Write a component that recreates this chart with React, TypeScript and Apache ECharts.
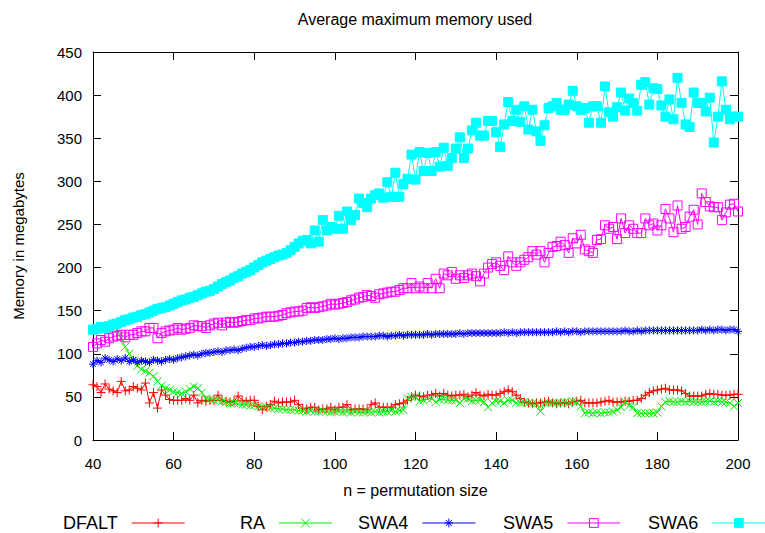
import React, { useEffect, useRef } from 'react';
import * as echarts from 'echarts';

// permutation sizes n = 40 .. 200
const sizes: number[] = Array.from({ length: 161 }, (_, i) => 40 + i);

const dfalt = [
  64, 62, 55, 65, 59, 57, 55, 68, 57, 58,
  62, 60, 58, 66, 43, 55, 37, 58, 52, 47,
  46, 46, 46, 48, 46, 52, 43, 46, 45, 46,
  46, 52, 46, 45, 44, 45, 51, 46, 45, 46,
  46, 39, 35, 39, 41, 45, 43, 44, 44, 44,
  46, 41, 37, 36, 38, 38, 35, 36, 36, 38,
  35, 38, 38, 41, 35, 36, 36, 36, 35, 41,
  43, 38, 38, 38, 38, 41, 42, 43, 46, 50,
  52, 51, 50, 52, 52, 54, 51, 54, 52, 51,
  52, 52, 53, 50, 52, 55, 52, 51, 53, 52,
  52, 54, 56, 58, 56, 52, 48, 44, 43, 42,
  43, 43, 44, 45, 43, 42, 43, 43, 42, 44,
  45, 46, 43, 43, 43, 43, 44, 45, 46, 44,
  44, 44, 45, 45, 46, 46, 48, 52, 55, 57,
  58, 59, 60, 58, 58, 58, 57, 54, 51, 51,
  51, 51, 53, 54, 53, 53, 52, 52, 52, 53,
  53,
];

const ra = [
  126, 128, 130, 132, 133, 134, 128, 118, 108, 100,
  92, 86, 82, 80, 78, 74, 68, 63, 60, 58,
  56, 55, 54, 56, 59, 62, 60, 55, 48, 47,
  46, 46, 45, 44, 43, 43, 42, 41, 41, 40,
  40, 39, 38, 38, 37, 37, 36, 36, 35, 35,
  35, 34, 34, 33, 34, 33, 33, 34, 33, 32,
  33, 33, 32, 33, 32, 33, 32, 32, 33, 32,
  33, 32, 33, 33, 34, 33, 34, 35, 48, 50,
  50, 45, 46, 48, 48, 44, 47, 47, 46, 46,
  46, 43, 48, 48, 45, 46, 46, 44, 38, 43,
  45, 45, 43, 46, 46, 43, 43, 44, 43, 42,
  42, 33, 43, 43, 43, 43, 43, 44, 43, 45,
  44, 39, 31, 32, 31, 32, 31, 32, 32, 33,
  35, 38, 44, 40, 38, 31, 31, 31, 31, 31,
  32, 39, 44, 45, 44, 44, 45, 44, 45, 44,
  44, 44, 45, 45, 44, 45, 44, 44, 43, 39,
  43,
];

const swa4 = [
  88, 92, 90, 95, 93, 91, 94, 92, 95, 91,
  93, 90, 92, 91, 90, 93, 92, 91, 93, 94,
  93, 95, 96, 97, 98, 99, 98, 100, 101, 101,
  102, 103, 102, 104, 104, 105, 104, 106, 107, 108,
  108, 109, 110, 109, 110, 111, 111, 112, 112, 113,
  113, 114, 114, 115, 115, 116, 116, 116, 117, 117,
  118, 117, 118, 118, 119, 119, 119, 120, 120, 120,
  120, 121, 121, 120, 121, 121, 122, 121, 122, 122,
  122, 122, 122, 123, 122, 123, 123, 123, 123, 123,
  123, 124, 123, 124, 124, 124, 124, 124, 124, 124,
  124, 124, 125, 124, 125, 124, 125, 125, 125, 125,
  125, 125, 125, 125, 125, 126, 125, 126, 125, 126,
  126, 125, 126, 126, 126, 126, 126, 126, 126, 126,
  126, 126, 127, 126, 126, 127, 126, 127, 127, 127,
  127, 127, 127, 127, 127, 127, 127, 127, 127, 127,
  127, 128, 127, 128, 127, 128, 128, 127, 128, 128,
  126,
];

const swa5 = [
  108, 112, 116, 114, 118, 120, 121, 122, 119, 122,
  122, 124, 126, 126, 130, 130, 118, 124, 126, 127,
  128, 130, 128, 129, 130, 133, 132, 132, 130, 133,
  135, 136, 133, 136, 137, 136, 137, 138, 139, 139,
  141, 141, 142, 143, 143, 143, 144, 145, 147, 148,
  149, 149, 150, 153, 154, 153, 154, 155, 156, 158,
  157, 158, 159, 160, 162, 163, 165, 166, 168, 167,
  165, 169, 170, 171, 172, 172, 174, 176, 176, 182,
  176, 178, 176, 182, 176, 187, 176, 193, 191, 195,
  187, 191, 188, 191, 193, 190, 184, 193, 200, 204,
  206, 202, 197, 213, 206, 202, 206, 209, 212, 219,
  215, 219, 206, 217, 224, 225, 230, 226, 217, 234,
  228, 238, 221, 219, 217, 232, 233, 249, 245, 247,
  233, 257, 240, 249, 245, 240, 240, 257, 249, 251,
  243, 249, 268, 257, 241, 272, 245, 247, 259, 267,
  250, 286, 276, 271, 270, 270, 255, 264, 273, 274,
  265,
];

const swa6 = [
  128, 129, 131, 130, 132, 134, 135, 137, 139, 140,
  142, 143, 145, 146, 148, 150, 152, 153, 154, 156,
  158, 160, 162, 163, 165, 166, 168, 170, 172, 173,
  175, 178, 181, 183, 185, 188, 190, 193, 195, 197,
  200, 203, 206, 208, 210, 212, 214, 215, 217, 220,
  224, 228, 231, 232, 228, 243, 230, 255, 243, 247,
  245, 260, 245, 265, 255, 261, 280, 275, 270, 280,
  284, 286, 281, 299, 282, 310, 282, 297, 303, 331,
  302, 334, 312, 333, 312, 334, 317, 339, 318, 327,
  338, 351, 327, 338, 359, 368, 353, 353, 370, 370,
  357, 340, 366, 392, 370, 383, 369, 387, 360, 383,
  358, 347, 365, 385, 387, 391, 383, 383, 389, 405,
  387, 383, 385, 368, 387, 387, 368, 410, 380, 375,
  386, 403, 382, 396, 391, 382, 412, 415, 389, 408,
  407, 388, 375, 395, 372, 420, 391, 366, 363, 403,
  391, 391, 381, 397, 345, 375, 416, 383, 372, 375,
  375,
];

const PLUS = 'path://M5,0L5,10M0,5L10,5';
const CROSS = 'path://M0,0L10,10M10,0L0,10';
const STAR = 'path://M5,0L5,10M0,5L10,5M1.5,1.5L8.5,8.5M8.5,1.5L1.5,8.5';
const SQUARE = 'path://M0,0L10,0L10,10L0,10Z';

const seriesDefs = [
  { name: 'DFALT', data: dfalt, color: '#ff0000', symbol: PLUS, size: 9, fill: 'rgba(0,0,0,0)', legendLeft: 63 },
  { name: 'RA', data: ra, color: '#00ee00', symbol: CROSS, size: 8, fill: 'rgba(0,0,0,0)', legendLeft: 240 },
  { name: 'SWA4', data: swa4, color: '#0000ff', symbol: STAR, size: 8, fill: 'rgba(0,0,0,0)', legendLeft: 358 },
  { name: 'SWA5', data: swa5, color: '#ff00ff', symbol: SQUARE, size: 9, fill: 'rgba(0,0,0,0)', legendLeft: 503 },
  { name: 'SWA6', data: swa6, color: '#00ffff', symbol: 'rect', size: 9, fill: '#00ffff', legendLeft: 648 },
];

const FONT = '"Liberation Sans", Arial, Helvetica, sans-serif';

export default function App() {
  const ref = useRef<HTMLDivElement>(null);

  useEffect(() => {
    const chart = echarts.init(ref.current as HTMLDivElement, null, { renderer: 'svg' });

    const axisCommon = {
      type: 'value' as const,
      axisLine: { show: true, onZero: false, lineStyle: { color: '#000', width: 1 } },
      axisTick: { show: true, inside: true, length: 8, lineStyle: { color: '#000', width: 1 } },
      splitLine: { show: false },
    };

    const option: any = {
      animation: false,
      backgroundColor: '#ffffff',
      textStyle: { fontFamily: FONT },
      title: {
        text: 'Average maximum memory used',
        left: 415,
        top: 11,
        padding: 0,
        textAlign: 'center',
        textStyle: { fontFamily: FONT, fontSize: 16, fontWeight: 'normal', color: '#000' },
      },
      legend: seriesDefs.map((s) => ({
        data: [s.name],
        left: s.legendLeft,
        top: 514,
        padding: 0,
        align: 'right',
        itemWidth: 53,
        itemHeight: 11,
        selectedMode: false,
        textStyle: { fontFamily: FONT, fontSize: 18, color: '#000', padding: [0, 9, 0, 0] },
        itemStyle: { color: s.fill, borderColor: s.color, borderWidth: 1 },
        lineStyle: { color: s.color, width: 1 },
      })),
      grid: { left: 93, right: 27, top: 52, bottom: 93, containLabel: false },
      xAxis: [
        {
          ...axisCommon,
          position: 'bottom',
          min: 40,
          max: 200,
          interval: 20,
          name: 'n = permutation size',
          nameLocation: 'middle',
          nameGap: 42,
          nameTextStyle: { fontFamily: FONT, fontSize: 16, color: '#000' },
          axisLabel: { fontFamily: FONT, fontSize: 15, color: '#000', margin: 16 },
        },
        {
          ...axisCommon,
          position: 'top',
          min: 40,
          max: 200,
          interval: 20,
          axisLabel: { show: false },
        },
      ],
      yAxis: [
        {
          ...axisCommon,
          position: 'left',
          min: 0,
          max: 450,
          interval: 50,
          name: 'Memory in megabytes',
          nameLocation: 'middle',
          nameGap: 67,
          nameTextStyle: { fontFamily: FONT, fontSize: 15, color: '#000' },
          axisLabel: { fontFamily: FONT, fontSize: 15, color: '#000', margin: 11 },
        },
        {
          ...axisCommon,
          position: 'right',
          min: 0,
          max: 450,
          interval: 50,
          axisLabel: { show: false },
        },
      ],
      series: seriesDefs.map((s) => ({
        name: s.name,
        type: 'line',
        xAxisIndex: 0,
        yAxisIndex: 0,
        data: s.data.map((v, i) => [sizes[i], v]),
        symbol: s.symbol,
        symbolSize: s.size,
        showSymbol: true,
        showAllSymbol: true,
        clip: false,
        lineStyle: { color: s.color, width: 1 },
        itemStyle: { color: s.fill, borderColor: s.color, borderWidth: 1 },
        emphasis: { disabled: true },
      })),
    };

    chart.setOption(option);
    return () => chart.dispose();
  }, []);

  return (
    <div
      ref={ref}
      style={{ position: 'fixed', left: 0, top: 0, width: 765, height: 533, background: '#fff' }}
    />
  );
}
